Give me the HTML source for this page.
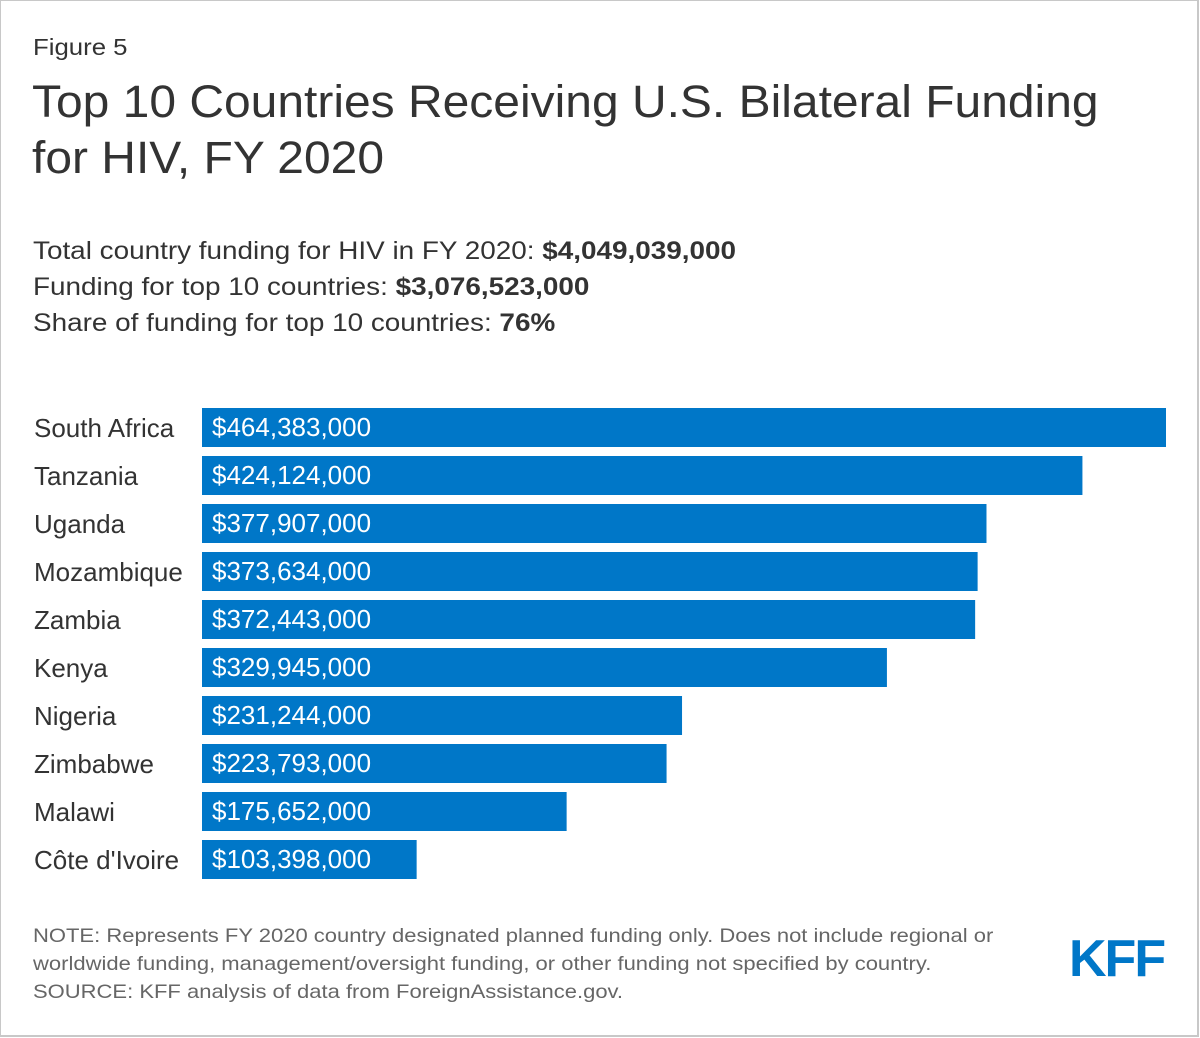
<!DOCTYPE html>
<html><head><meta charset="utf-8"><style>
body{margin:0;width:1200px;height:1038px;overflow:hidden;background:#fff;font-family:"Liberation Sans",Arial,sans-serif;color:#333}
#frame{position:absolute;left:0;top:0;width:1196px;height:1034px;border:2px solid #c8c8c8;border-top:1px solid #c8c8c8;border-left:1px solid #c8c8c8}
.t{position:absolute;white-space:nowrap;transform-origin:0 0}
</style></head><body>
<div id="frame"></div>
<div class="t" style="left:33px;top:34px;font-size:23px;transform:scaleX(1.12)">Figure 5</div>
<div class="t" style="left:32px;top:74px;font-size:45px;line-height:56px;transform:scaleX(1.066)">Top 10 Countries Receiving U.S. Bilateral Funding<br>for HIV, FY 2020</div>
<div class="t" style="left:33px;top:237px;font-size:25px;transform:scaleX(1.115)">Total country funding for HIV in FY 2020: <b>$4,049,039,000</b></div>
<div class="t" style="left:33px;top:273px;font-size:25px;transform:scaleX(1.115)">Funding for top 10 countries: <b>$3,076,523,000</b></div>
<div class="t" style="left:33px;top:309px;font-size:25px;transform:scaleX(1.115)">Share of funding for top 10 countries: <b>76%</b></div>
<svg id="chart" style="position:absolute;left:0;top:0" width="1200" height="1038"></svg>
<div class="t" style="left:33px;top:922px;font-size:19.5px;line-height:28px;color:#666;transform:scaleX(1.128)">NOTE: Represents FY 2020 country designated planned funding only. Does not include regional or<br>worldwide funding, management/oversight funding, or other funding not specified by country.<br>SOURCE: KFF analysis of data from ForeignAssistance.gov.</div>
<div class="t" style="left:1069px;top:929px;font-size:52px;font-weight:bold;color:#0077c8;letter-spacing:-2px">KFF</div>
<script>
const countries=["South Africa","Tanzania","Uganda","Mozambique","Zambia","Kenya","Nigeria","Zimbabwe","Malawi","Côte d'Ivoire"];
const values=[464383000,424124000,377907000,373634000,372443000,329945000,231244000,223793000,175652000,103398000];
const svg=document.getElementById('chart');
const NS='http://www.w3.org/2000/svg';
const x0=202,xMax=464383000,wMax=964;
const xs=v=>v/xMax*wMax;
const ys=i=>408+i*48;
countries.forEach((c,i)=>{
  const y=ys(i);
  const r=document.createElementNS(NS,'rect');
  r.setAttribute('x',x0);r.setAttribute('y',y);r.setAttribute('width',xs(values[i]));r.setAttribute('height',39);r.setAttribute('fill','#0077c8');
  
  
  svg.appendChild(r);
  const l=document.createElementNS(NS,'text');
  l.setAttribute('x',34);l.setAttribute('y',y+29);l.setAttribute('font-size','26');l.setAttribute('fill','#333');
  l.textContent=c;
  
  
  svg.appendChild(l);
  const v=document.createElementNS(NS,'text');
  v.setAttribute('x',212);v.setAttribute('y',y+28);v.setAttribute('font-size','26');v.setAttribute('fill','#fff');
  v.textContent='$'+values[i].toLocaleString('en-US');
  
  
  svg.appendChild(v);
});
</script>
</body></html>
